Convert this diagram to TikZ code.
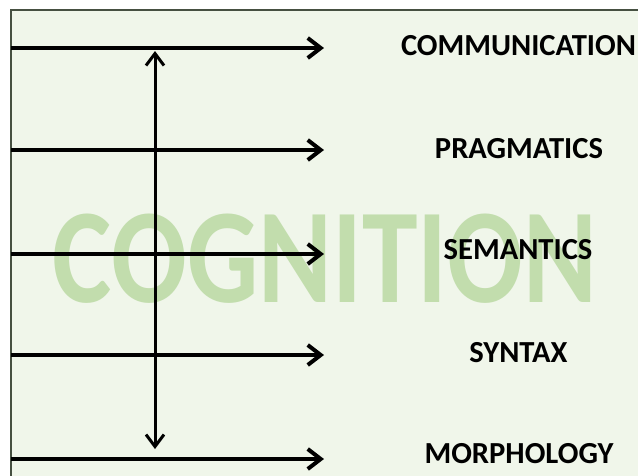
\documentclass[tikz,border=0pt]{standalone}
\usepackage{fontspec}
\setmainfont{Carlito}
\usetikzlibrary{arrows.meta}
\definecolor{bgpanel}{RGB}{240,246,234}
\definecolor{framegray}{RGB}{70,80,65}
\definecolor{watermark}{RGB}{194,221,173}
\tikzset{
  level/.style={font=\fontsize{30.6}{31}\selectfont\bfseries, anchor=base, inner sep=0pt},
  flow/.style={line width=4pt, -{Straight Barb[length=13pt,width=20pt,line width=4pt]}},
  updown/.style={line width=3pt, {Straight Barb[length=12pt,width=18pt,line width=3pt]}-{Straight Barb[length=12pt,width=18pt,line width=3pt]}},
}
\begin{document}
\begin{tikzpicture}[x=1pt,y=-1pt]
\useasboundingbox (0,0) rectangle (638,475);
\fill[white] (0,0) rectangle (638,475);
\fill[bgpanel] (11,10) rectangle (640,477);
\draw[framegray, line width=1.5pt] (11,477) -- (11,10) -- (640,10);
% watermark
\node[text=watermark, font=\fontsize{135}{135}\selectfont\bfseries, xscale=0.83, anchor=base, inner sep=0pt] (cog) at (325,302) {COGNITION};
% labels
\node[level] (comm) at (518.5,55) {COMMUNICATION};
\node[level] (prag) at (519,158) {PRAGMATICS};
\node[level] (sem) at (518,259) {SEMANTICS};
\node[level] (syn) at (518.5,362) {SYNTAX};
\node[level] (mor) at (519,463) {MORPHOLOGY};
% arrow endpoints
\coordinate (s1) at (11,48);  \coordinate (e1) at (324,48);
\coordinate (s2) at (11,150); \coordinate (e2) at (324,150);
\coordinate (s3) at (11,254); \coordinate (e3) at (324,254);
\coordinate (s4) at (11,355); \coordinate (e4) at (324,355);
\coordinate (s5) at (11,459); \coordinate (e5) at (324,459);
\coordinate (vt) at (155,51);
\coordinate (vb) at (155,449);
\draw[flow] (s1) -- (e1);
\draw[flow] (s2) -- (e2);
\draw[flow] (s3) -- (e3);
\draw[flow] (s4) -- (e4);
\draw[flow] (s5) -- (e5);
\draw[updown] (vt) -- (vb);
\end{tikzpicture}
\end{document}
